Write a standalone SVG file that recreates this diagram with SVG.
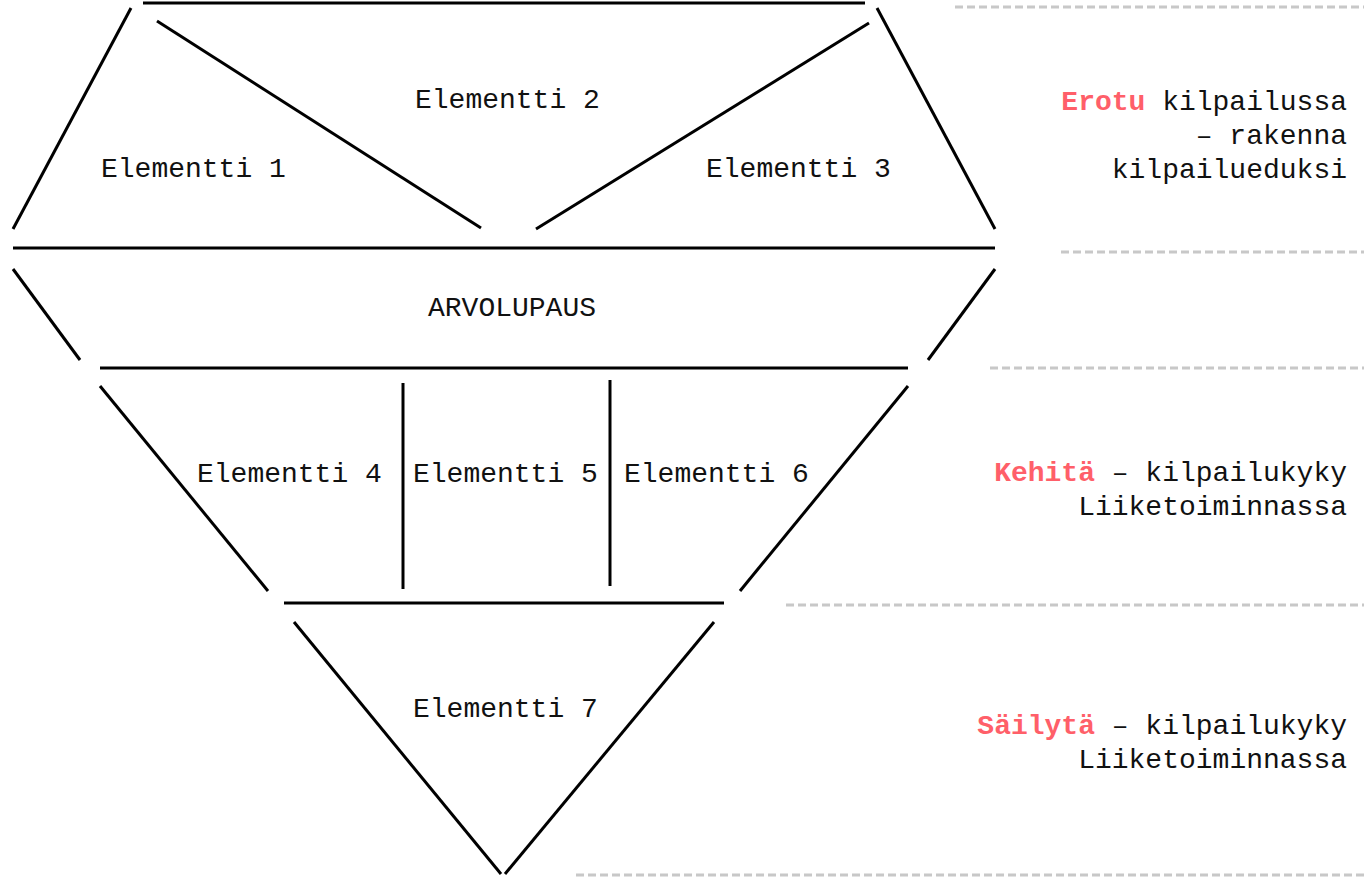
<svg xmlns="http://www.w3.org/2000/svg" width="1364" height="878" viewBox="0 0 1364 878">
<style>
.ln{stroke:#000;stroke-width:3;fill:none;stroke-linecap:butt}
.dash{stroke:#c8c8c8;stroke-width:3;fill:none;stroke-dasharray:8 4}
.t{font-family:"Liberation Mono","DejaVu Sans Mono",monospace;font-size:28px;fill:#111}
.r{text-anchor:end}
.hl{fill:#ff5f69;font-weight:bold}
</style>
<rect width="1364" height="878" fill="#fff"/>
<g id="connectors">
<line class="ln" x1="143" y1="3" x2="865" y2="3"/>
<line class="ln" x1="131" y1="8" x2="13" y2="229"/>
<line class="ln" x1="157" y1="21" x2="481" y2="228"/>
<line class="ln" x1="869" y1="23" x2="536" y2="229"/>
<line class="ln" x1="877" y1="8" x2="995" y2="229"/>
<line class="ln" x1="13" y1="248" x2="995" y2="248"/>
<line class="ln" x1="13" y1="269" x2="80" y2="360"/>
<line class="ln" x1="995" y1="269" x2="928" y2="360"/>
<line class="ln" x1="100" y1="368" x2="908" y2="368"/>
<line class="ln" x1="100" y1="386" x2="268" y2="591"/>
<line class="ln" x1="403" y1="383" x2="403" y2="589"/>
<line class="ln" x1="610" y1="380" x2="610" y2="586"/>
<line class="ln" x1="908" y1="386" x2="740" y2="591"/>
<line class="ln" x1="284" y1="603" x2="724" y2="603"/>
<line class="ln" x1="294" y1="622" x2="501" y2="874"/>
<line class="ln" x1="714" y1="622" x2="505" y2="874"/>
</g>
<g id="separators">
<line class="dash" x1="955" y1="7" x2="1364" y2="7"/>
<line class="dash" x1="1061" y1="252" x2="1364" y2="252"/>
<line class="dash" x1="990" y1="368" x2="1364" y2="368"/>
<line class="dash" x1="786" y1="605" x2="1364" y2="605"/>
<line class="dash" x1="576" y1="875" x2="1364" y2="875"/>
</g>
<g id="el1"><text class="t" x="101" y="177">Elementti 1</text></g>
<g id="el2"><text class="t" x="415" y="108">Elementti 2</text></g>
<g id="el3"><text class="t" x="706" y="177">Elementti 3</text></g>
<g id="arvolupaus"><text class="t" x="428" y="316">ARVOLUPAUS</text></g>
<g id="el4"><text class="t" x="197" y="482">Elementti 4</text></g>
<g id="el5"><text class="t" x="413" y="482">Elementti 5</text></g>
<g id="el6"><text class="t" x="624" y="482">Elementti 6</text></g>
<g id="el7"><text class="t" x="413" y="717">Elementti 7</text></g>
<g id="label-erotu">
<text class="t r" x="1347" y="110"><tspan class="hl">Erotu</tspan> kilpailussa</text>
<text class="t r" x="1347" y="144">– rakenna</text>
<text class="t r" x="1347" y="178">kilpailueduksi</text>
</g>
<g id="label-kehita">
<text class="t r" x="1347" y="481"><tspan class="hl">Kehitä</tspan> – kilpailukyky</text>
<text class="t r" x="1347" y="515">Liiketoiminnassa</text>
</g>
<g id="label-sailyta">
<text class="t r" x="1347" y="734"><tspan class="hl">Säilytä</tspan> – kilpailukyky</text>
<text class="t r" x="1347" y="768">Liiketoiminnassa</text>
</g>
</svg>
